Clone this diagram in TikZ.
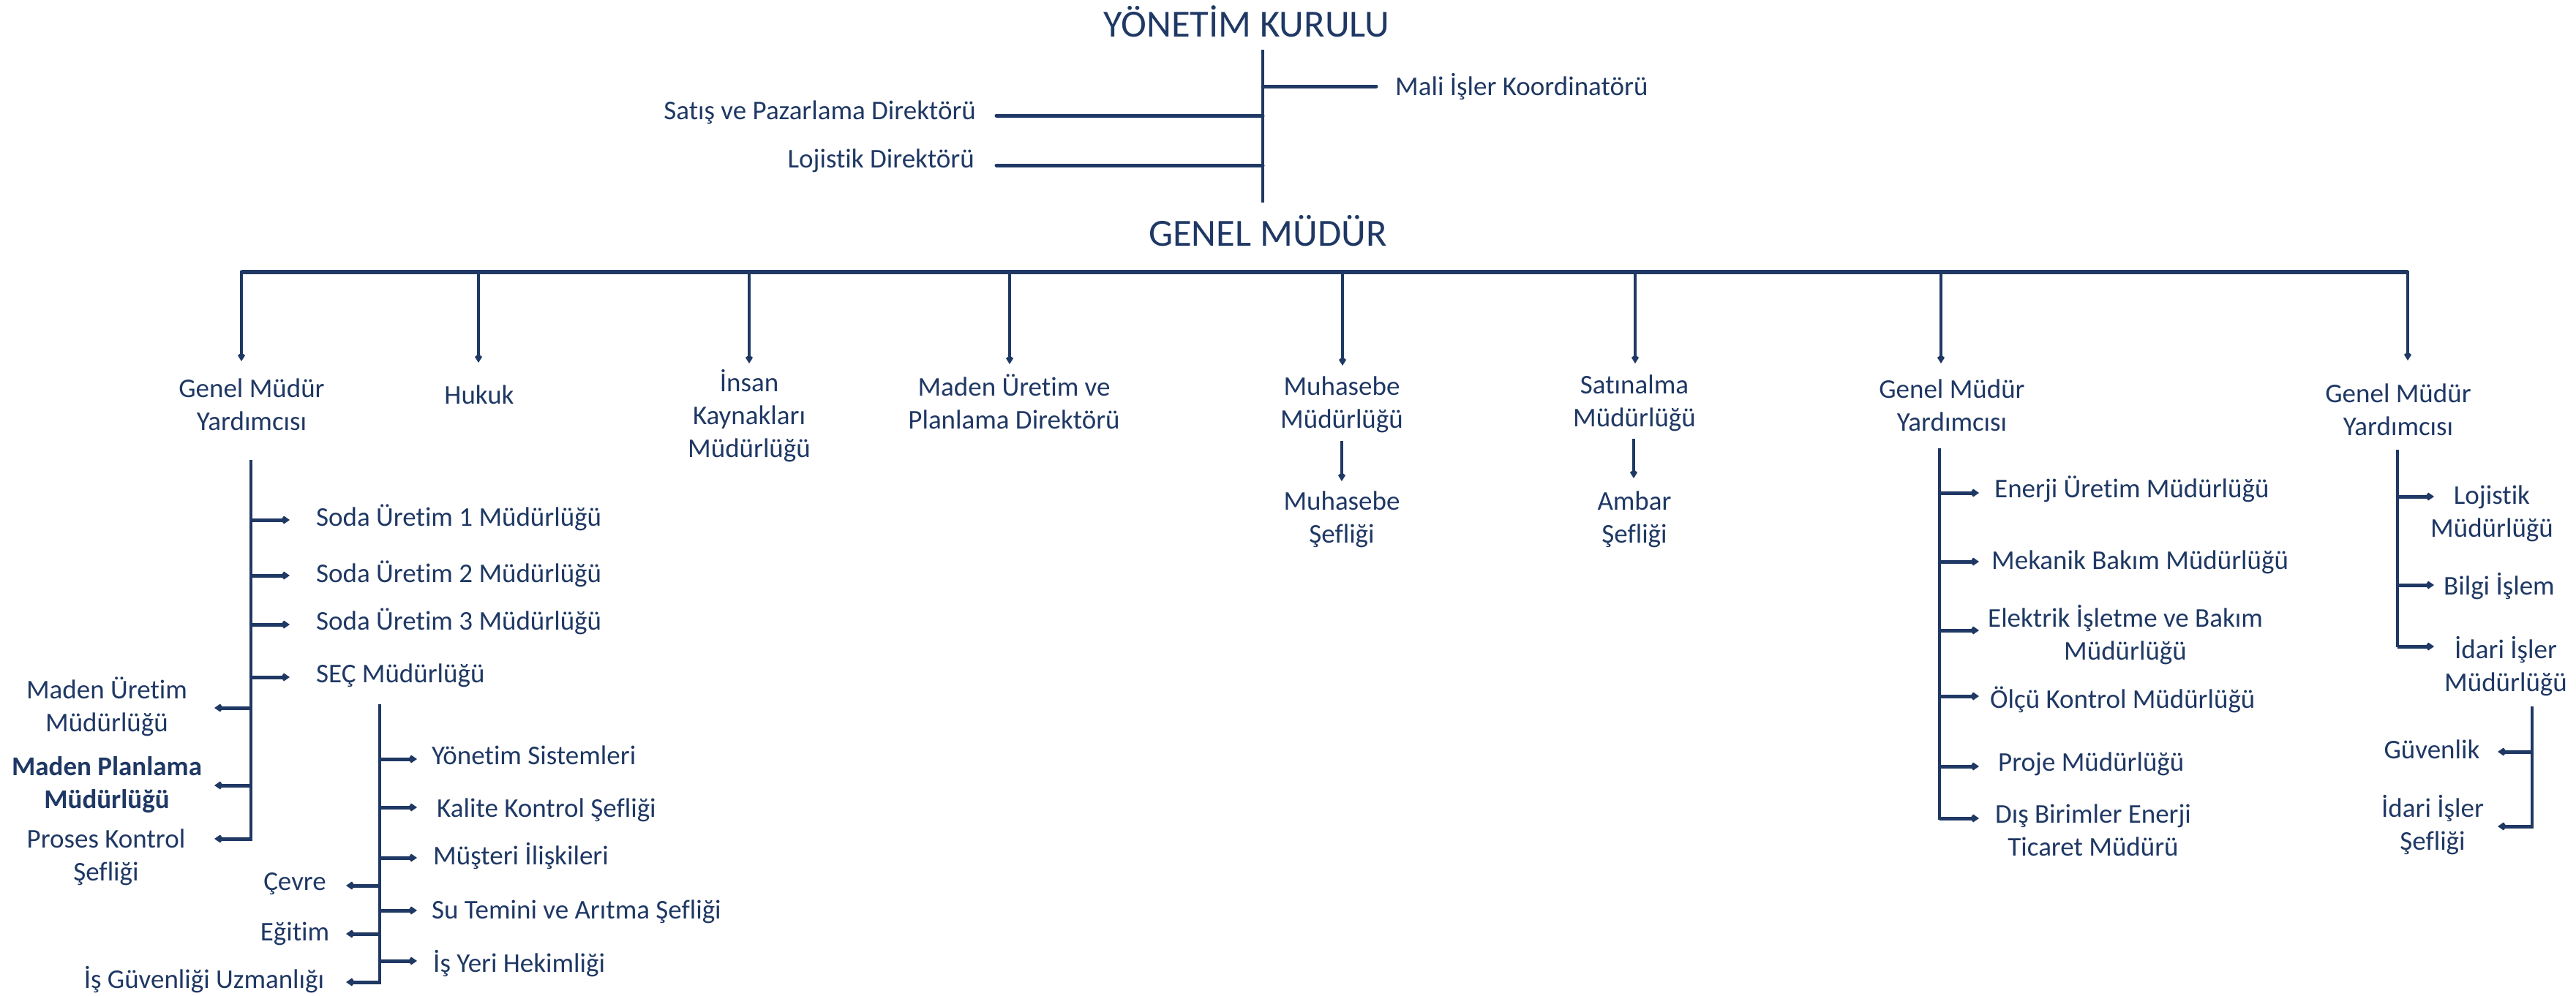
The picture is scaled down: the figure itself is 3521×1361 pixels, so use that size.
\documentclass[tikz,border=0pt]{standalone}
\usepackage{fontspec}
\setmainfont{Carlito}[Ligatures=NoCommon]
\usetikzlibrary{arrows.meta}
\definecolor{navy}{HTML}{1F3864}
\begin{document}
\begin{tikzpicture}[x=1pt,y=-1pt,
  lbl/.style={font=\fontsize{37}{45}\selectfont, text=navy, inner sep=0pt, align=center},
  big/.style={font=\fontsize{52.5}{60}\selectfont, text=navy, inner sep=0pt},
  trunk/.style={draw=navy, line width=4pt},
  hbar/.style={draw=navy, line width=6pt},
  branch/.style={draw=navy, line width=5pt, line cap=round},
  drop/.style={draw=navy, line width=3.5pt, -{Kite[length=12pt,width=10pt,inset=4pt]}},
  arr/.style={draw=navy, line width=5pt, -{Kite[length=12pt,width=11pt,inset=4pt]}},
  vline/.style={draw=navy, line width=4pt},
]
\useasboundingbox (0,0) rectangle (3521,1361);

% ---------- top ----------
\node[big, anchor=base] (yk) at (1704,50) {YÖNETİM KURULU};
\node[big, anchor=base west] (gm) at (1570,336) {GENEL MÜDÜR};
\node[lbl, anchor=base west] (mali) at (1907,130) {Mali İşler Koordinatörü};
\node[lbl, anchor=base east] (satis) at (1334,163) {Satış ve Pazarlama Direktörü};
\node[lbl, anchor=base east] (lojd) at (1332,229) {Lojistik Direktörü};

\coordinate (tT) at (1726,68); \coordinate (tB) at (1726,277);
\coordinate (jMali) at (1726,118); \coordinate (eMali) at (1881,118);
\coordinate (jSat) at (1726,158); \coordinate (eSat) at (1362,158);
\coordinate (jLoj) at (1726,226); \coordinate (eLoj) at (1362,226);
\draw[trunk] (tT) -- (tB);
\draw[branch] (jMali) -- (eMali);
\draw[branch] (jSat) -- (eSat);
\draw[branch] (jLoj) -- (eLoj);

% ---------- main bar ----------
\coordinate (hL) at (330,372); \coordinate (hR) at (3291,372);
\draw[hbar] (hL) -- (hR);

% ---------- level 1 (base anchor = baseline of the last line) ----------
\node[lbl, anchor=base] (gmy1) at (344,588) {Genel Müdür\\Yardımcısı};
\node[lbl, anchor=base] (hukuk) at (655,552) {Hukuk};
\node[lbl, anchor=base] (ik) at (1024,625) {İnsan\\Kaynakları\\Müdürlüğü};
\node[lbl, anchor=base] (mup) at (1386,586) {Maden Üretim ve\\Planlama Direktörü};
\node[lbl, anchor=base] (muh) at (1834,585) {Muhasebe\\Müdürlüğü};
\node[lbl, anchor=base] (sat) at (2234,583) {Satınalma\\Müdürlüğü};
\node[lbl, anchor=base] (gmy2) at (2668,589) {Genel Müdür\\Yardımcısı};
\node[lbl, anchor=base] (gmy3) at (3278,595) {Genel Müdür\\Yardımcısı};

\foreach \n/\x/\e in {1/330/494,2/654/496,3/1024/497,4/1380/498,5/1835/500,6/2235/497,7/2653/497,8/3291/493}{
  \coordinate (dT\n) at (\x,370);
  \coordinate (dB\n) at (\x,\e);
  \draw[drop] (dT\n) -- (dB\n);
}

% ---------- Muhasebe / Satinalma ----------
\node[lbl, anchor=base] (muhs) at (1834,742) {Muhasebe\\Şefliği};
\node[lbl, anchor=base] (amb) at (2234,742) {Ambar\\Şefliği};
\coordinate (mT) at (1834,603); \coordinate (mB) at (1834,658);
\coordinate (aT) at (2233,600); \coordinate (aB) at (2233,654);
\draw[drop] (mT) -- (mB);
\draw[drop] (aT) -- (aB);

% ---------- GMY1 subtree ----------
\coordinate (vA1) at (343,629); \coordinate (vA2) at (343,1147);
\draw[vline] (vA1) -- (vA2);
\node[lbl, anchor=base west] (soda1) at (432,719) {Soda Üretim 1 Müdürlüğü};
\node[lbl, anchor=base west] (soda2) at (432,796) {Soda Üretim 2 Müdürlüğü};
\node[lbl, anchor=base west] (soda3) at (432,861) {Soda Üretim 3 Müdürlüğü};
\node[lbl, anchor=base west] (sec) at (432,933) {SEÇ Müdürlüğü};
\node[lbl, anchor=base] (maden) at (146,1000) {Maden Üretim\\Müdürlüğü};
\node[lbl, anchor=base, font=\fontsize{37}{45}\selectfont\bfseries] (planl) at (146,1105) {Maden Planlama\\Müdürlüğü};
\node[lbl, anchor=base] (proses) at (145,1204) {Proses Kontrol\\Şefliği};
\foreach \n/\y in {1/711,2/787,3/854,4/926}{
  \coordinate (rA\n) at (343,\y); \coordinate (rAe\n) at (396,\y);
  \draw[arr] (rA\n) -- (rAe\n);
}
\foreach \n/\y in {1/968,2/1074,3/1147}{
  \coordinate (lA\n) at (345,\y); \coordinate (lAe\n) at (293,\y);
  \draw[arr] (lA\n) -- (lAe\n);
}

% SEÇ subtree
\coordinate (vB1) at (519,963); \coordinate (vB2) at (519,1346);
\draw[vline] (vB1) -- (vB2);
\node[lbl, anchor=base west] (ys) at (590,1045) {Yönetim Sistemleri};
\node[lbl, anchor=base west] (kk) at (597,1117) {Kalite Kontrol Şefliği};
\node[lbl, anchor=base west] (mi) at (592,1182) {Müşteri İlişkileri};
\node[lbl, anchor=base west] (su) at (590,1256) {Su Temini ve Arıtma Şefliği};
\node[lbl, anchor=base west] (hek) at (592,1329) {İş Yeri Hekimliği};
\node[lbl, anchor=base] (cevre) at (403,1217) {Çevre};
\node[lbl, anchor=base] (egitim) at (403,1286) {Eğitim};
\node[lbl, anchor=base] (isg) at (279,1351) {İş Güvenliği Uzmanlığı};
\foreach \n/\y in {1/1038,2/1104,3/1173,4/1245,5/1314}{
  \coordinate (rB\n) at (519,\y); \coordinate (rBe\n) at (570,\y);
  \draw[arr] (rB\n) -- (rBe\n);
}
\foreach \n/\y in {1/1211,2/1277,3/1343}{
  \coordinate (lB\n) at (521,\y); \coordinate (lBe\n) at (473,\y);
  \draw[arr] (lB\n) -- (lBe\n);
}

% ---------- GMY2 subtree ----------
\coordinate (vC1) at (2651,613); \coordinate (vC2) at (2651,1121);
\draw[vline] (vC1) -- (vC2);
\node[lbl, anchor=base west] (enerji) at (2726,680) {Enerji Üretim Müdürlüğü};
\node[lbl, anchor=base west] (mek) at (2722,778) {Mekanik Bakım Müdürlüğü};
\node[lbl, anchor=base] (elk) at (2905,902) {Elektrik İşletme ve Bakım\\Müdürlüğü};
\node[lbl, anchor=base west] (olcu) at (2720,968) {Ölçü Kontrol Müdürlüğü};
\node[lbl, anchor=base west] (proje) at (2731,1054) {Proje Müdürlüğü};
\node[lbl, anchor=base] (dis) at (2861,1170) {Dış Birimler Enerji\\Ticaret Müdürü};
\foreach \n/\y in {1/674,2/768,3/862,4/952,5/1048,6/1119}{
  \coordinate (rC\n) at (2651,\y); \coordinate (rCe\n) at (2705,\y);
  \draw[arr] (rC\n) -- (rCe\n);
}

% ---------- GMY3 subtree ----------
\coordinate (vD1) at (3277,615); \coordinate (vD2) at (3277,885);
\draw[vline] (vD1) -- (vD2);
\node[lbl, anchor=base] (loj) at (3406,734) {Lojistik\\Müdürlüğü};
\node[lbl, anchor=base] (bilgi) at (3416,813) {Bilgi İşlem};
\node[lbl, anchor=base] (idari) at (3425,945) {İdari İşler\\Müdürlüğü};
\foreach \n/\y in {1/679,2/800,3/884}{
  \coordinate (rD\n) at (3277,\y); \coordinate (rDe\n) at (3327,\y);
  \draw[arr] (rD\n) -- (rDe\n);
}
\coordinate (vE1) at (3461,966); \coordinate (vE2) at (3461,1130);
\draw[vline] (vE1) -- (vE2);
\node[lbl, anchor=base] (guv) at (3324,1037) {Güvenlik};
\node[lbl, anchor=base] (ids) at (3325,1162) {İdari İşler\\Şefliği};
\foreach \n/\y in {1/1028,2/1130}{
  \coordinate (lE\n) at (3463,\y); \coordinate (lEe\n) at (3414,\y);
  \draw[arr] (lE\n) -- (lEe\n);
}
\end{tikzpicture}
\end{document}
